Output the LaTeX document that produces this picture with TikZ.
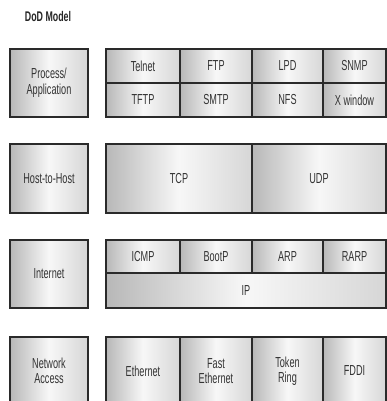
\documentclass[tikz,border=0pt]{standalone}
\usepackage{fontspec}
\setmainfont{Liberation Sans}[FakeStretch=0.63]
\definecolor{linec}{HTML}{2A2A2A}
\definecolor{textc}{HTML}{333333}
\begin{document}
\begin{tikzpicture}[x=1pt,y=-1pt,
  cell/.style={draw=linec, line width=1.5pt, inner sep=0pt, outer sep=0pt,
    left color=black!28, right color=black!16, middle color=black!3,
    text=textc, align=center, font=\fontsize{14.5}{15.5}\selectfont},
  titlec/.style={text=black!85, inner sep=0pt, font=\fontsize{14}{15}\selectfont\bfseries}]
\useasboundingbox (0,0) rectangle (387,401);
\begin{scope}
\clip (0,0) rectangle (387,401);
\node[titlec] (title) at (48,16) {DoD Model};
% left column
\node[cell, minimum width=78pt, minimum height=68pt] (proc) at (49,83) {Process/\\Application};
\node[cell, minimum width=78pt, minimum height=69pt] (host) at (49,178.5) {Host-to-Host};
\node[cell, minimum width=78pt, minimum height=68pt] (inet) at (49,274) {Internet};
\node[cell, minimum width=78pt, minimum height=68pt] (net) at (49,371) {Network\\Access};
% row 1
\node[cell, minimum width=74pt, minimum height=34pt] (telnet) at (143,66) {Telnet};
\node[cell, minimum width=72pt, minimum height=34pt] (ftp) at (216,66) {FTP};
\node[cell, minimum width=71pt, minimum height=34pt] (lpd) at (287.5,66) {LPD};
\node[cell, minimum width=63pt, minimum height=34pt] (snmp) at (354.5,66) {SNMP};
\node[cell, minimum width=74pt, minimum height=34pt] (tftp) at (143,100) {TFTP};
\node[cell, minimum width=72pt, minimum height=34pt] (smtp) at (216,100) {SMTP};
\node[cell, minimum width=71pt, minimum height=34pt] (nfs) at (287.5,100) {NFS};
\node[cell, minimum width=63pt, minimum height=34pt] (xwin) at (354.5,100) {X window};
% row 2
\node[cell, minimum width=146pt, minimum height=69pt] (tcp) at (179,178.5) {TCP};
\node[cell, minimum width=134pt, minimum height=69pt] (udp) at (319,178.5) {UDP};
% row 3
\node[cell, minimum width=74pt, minimum height=33pt] (icmp) at (143,256.5) {ICMP};
\node[cell, minimum width=72pt, minimum height=33pt] (bootp) at (216,256.5) {BootP};
\node[cell, minimum width=71pt, minimum height=33pt] (arp) at (287.5,256.5) {ARP};
\node[cell, minimum width=63pt, minimum height=33pt] (rarp) at (354.5,256.5) {RARP};
\node[cell, minimum width=280pt, minimum height=35pt] (ip) at (246,290.5) {IP};
% row 4
\node[cell, minimum width=74pt, minimum height=68pt] (eth) at (143,371) {Ethernet};
\node[cell, minimum width=72pt, minimum height=68pt] (feth) at (216,371) {Fast\\Ethernet};
\node[cell, minimum width=71pt, minimum height=68pt] (tok) at (287.5,371) {Token\\Ring};
\node[cell, minimum width=63pt, minimum height=68pt] (fddi) at (354.5,371) {FDDI};
\end{scope}
\end{tikzpicture}
\end{document}
